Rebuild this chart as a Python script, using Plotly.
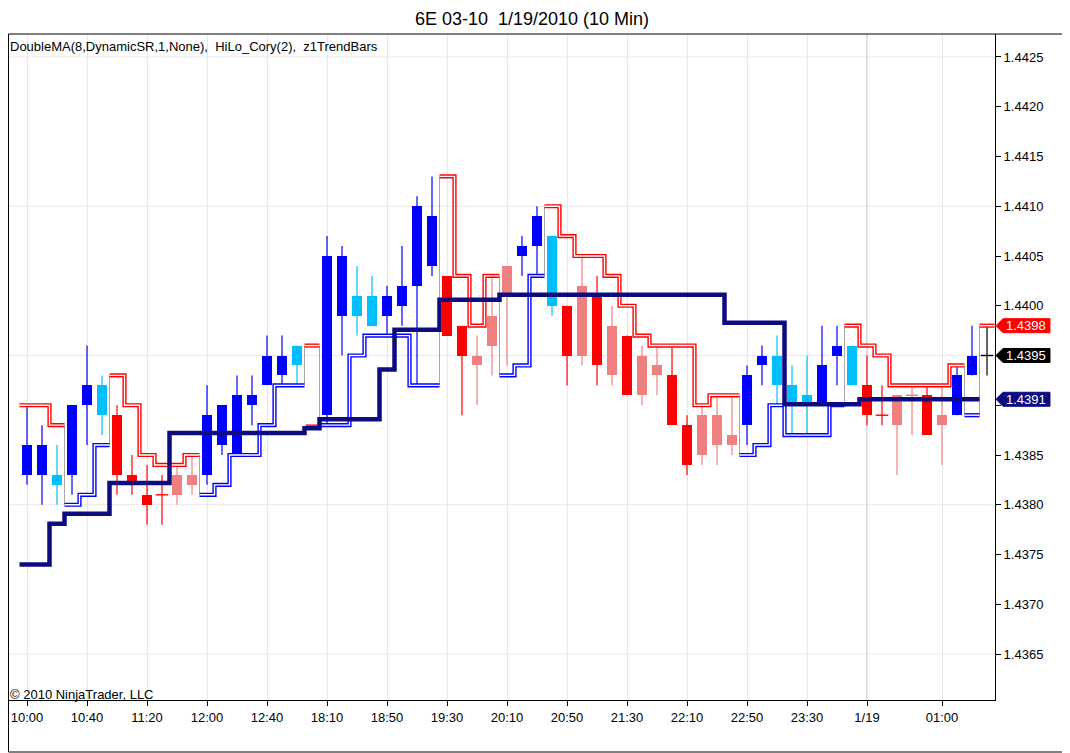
import plotly.graph_objects as go

# 6E 03-10, 10 minute bars (bar index 0 = 10:00)
tick_pos = [0, 4, 8, 12, 16, 20, 24, 28, 32, 36, 40, 44, 48, 52, 56, 61]
tick_text = ["10:00", "10:40", "11:20", "12:00", "12:40", "18:10", "18:50", "19:30",
             "20:10", "20:50", "21:30", "22:10", "22:50", "23:30", "1/19", "01:00"]

# z1TrendBars colour per bar: B=up trend, C=pullback in up trend, R=down trend, P=pullback in down trend
bar_color = ["B", "B", "C", "B", "B", "C", "R", "R", "R", "R", "P", "P", "B", "B", "B", "B", "B", "B", "C", "R",
             "B", "B", "C", "C", "B", "B", "B", "B", "R", "R", "P", "P", "P", "B", "B", "C", "R", "P", "R", "P",
             "R", "P", "P", "R", "R", "P", "P", "P", "B", "B", "C", "C", "C", "B", "B", "C", "R", "R", "P", "P",
             "R", "P", "B", "B", "K"]

opens = [1.4383, 1.4383, 1.4383, 1.4383, 1.4390, 1.4392, 1.4389, 1.4383, 1.4381, 1.4381,
         1.4381, 1.4382, 1.4383, 1.4386, 1.4385, 1.4390, 1.4392, 1.4393, 1.4396, 1.4388,
         1.4389, 1.4399, 1.4401, 1.4401, 1.4399, 1.4400, 1.4402, 1.4404, 1.4403, 1.4398,
         1.4394, 1.4396, 1.4401, 1.4405, 1.4406, 1.4407, 1.4400, 1.4395, 1.4401, 1.4393,
         1.4397, 1.4391, 1.4393, 1.4393, 1.4388, 1.4385, 1.4386, 1.4386, 1.4388, 1.4394,
         1.4395, 1.4392, 1.4391, 1.4390, 1.4395, 1.4396, 1.4392, 1.4389, 1.4388, 1.4391,
         1.4391, 1.4388, 1.4389, 1.4393, 1.4395]
highs = [1.4390, 1.4388, 1.4386, 1.4390, 1.4396, 1.4393, 1.4390, 1.4385, 1.4384, 1.4383,
         1.4384, 1.4385, 1.4392, 1.4390, 1.4393, 1.4393, 1.4397, 1.4397, 1.4396, 1.4388,
         1.4407, 1.4406, 1.4404, 1.4403, 1.4402, 1.4406, 1.4411, 1.4413, 1.4403, 1.4398,
         1.4397, 1.4403, 1.4404, 1.4407, 1.4410, 1.4407, 1.4400, 1.4405, 1.4403, 1.4400,
         1.4397, 1.4396, 1.4396, 1.4396, 1.4389, 1.4390, 1.4391, 1.4391, 1.4394, 1.4396,
         1.4397, 1.4394, 1.4395, 1.4398, 1.4398, 1.4396, 1.4395, 1.4392, 1.4391, 1.4392,
         1.4392, 1.4392, 1.4394, 1.4398, 1.4398]
lows = [1.4382, 1.4380, 1.4380, 1.4381, 1.4386, 1.4387, 1.4381, 1.4381, 1.4378, 1.4378,
        1.4380, 1.4381, 1.4382, 1.4385, 1.4385, 1.4388, 1.4392, 1.4392, 1.4392, 1.4388,
        1.4388, 1.4395, 1.4397, 1.4398, 1.4397, 1.4398, 1.4392, 1.4403, 1.4397, 1.4389,
        1.4390, 1.4393, 1.4394, 1.4403, 1.4403, 1.4399, 1.4392, 1.4394, 1.4392, 1.4392,
        1.4391, 1.4390, 1.4391, 1.4388, 1.4383, 1.4384, 1.4384, 1.4385, 1.4386, 1.4392,
        1.4390, 1.4387, 1.4387, 1.4390, 1.4392, 1.4392, 1.4388, 1.4388, 1.4383, 1.4387,
        1.4387, 1.4384, 1.4389, 1.4393, 1.4393]
closes = [1.4386, 1.4386, 1.4382, 1.4390, 1.4392, 1.4389, 1.4383, 1.4382, 1.4380, 1.4381,
          1.4383, 1.4383, 1.4389, 1.4390, 1.4391, 1.4391, 1.4395, 1.4395, 1.4394, 1.4388,
          1.4405, 1.4405, 1.4399, 1.4398, 1.4401, 1.4402, 1.4410, 1.4409, 1.4397, 1.4395,
          1.4395, 1.4399, 1.4404, 1.4406, 1.4409, 1.4400, 1.4395, 1.4402, 1.4394, 1.4398,
          1.4391, 1.4395, 1.4394, 1.4388, 1.4384, 1.4389, 1.4389, 1.4387, 1.4393, 1.4395,
          1.4392, 1.4390, 1.4390, 1.4394, 1.4396, 1.4392, 1.4389, 1.4389, 1.4391, 1.4391,
          1.4387, 1.4389, 1.4393, 1.4395, 1.4395]

# HiLo_Cory(2): upper (red) band and lower (blue) band, one of them per bar
hilo_up = [1.4390, 1.4390, 1.4388, None, None, None, 1.4393, 1.4390, 1.4385, 1.4384,
           1.4384, 1.4385, None, None, None, None, None, None, None, 1.4396,
           None, None, None, None, None, None, None, None, 1.4413, 1.4403,
           1.4398, 1.4403, None, None, None, 1.4410, 1.4407, 1.4405, 1.4405, 1.4403,
           1.4400, 1.4397, 1.4396, 1.4396, 1.4396, 1.4390, 1.4391, 1.4391, None, None,
           None, None, None, None, None, 1.4398, 1.4396, 1.4395, 1.4392, 1.4392,
           1.4392, 1.4392, 1.4394, None, 1.4398]
hilo_dn = [None, None, None, 1.4380, 1.4381, 1.4386, None, None, None, None,
           None, None, 1.4381, 1.4382, 1.4385, 1.4385, 1.4388, 1.4392, 1.4392, None,
           1.4388, 1.4388, 1.4395, 1.4397, 1.4397, 1.4397, 1.4392, 1.4392, None, None,
           None, None, 1.4393, 1.4394, 1.4403, None, None, None, None, None,
           None, None, None, None, None, None, None, None, 1.4385, 1.4386,
           1.4390, 1.4387, 1.4387, 1.4387, 1.4390, None, None, None, None, None,
           None, None, None, 1.4389, None]

# DoubleMA(8, DynamicSR)
double_ma = [1.43740, 1.43740, 1.43781, 1.43791, 1.43791, 1.43791, 1.43822, 1.43822, 1.43822, 1.43822,
             1.43872, 1.43872, 1.43872, 1.43872, 1.43872, 1.43872, 1.43872, 1.43872, 1.43872, 1.43877,
             1.43886, 1.43886, 1.43886, 1.43886, 1.43936, 1.43976, 1.43976, 1.43976, 1.44006, 1.44006,
             1.44006, 1.44006, 1.44011, 1.44011, 1.44011, 1.44011, 1.44011, 1.44011, 1.44011, 1.44011,
             1.44011, 1.44011, 1.44011, 1.44011, 1.44011, 1.44011, 1.44011, 1.43983, 1.43983, 1.43983,
             1.43983, 1.43901, 1.43901, 1.43901, 1.43901, 1.43901, 1.43906, 1.43906, 1.43906, 1.43906,
             1.43906, 1.43906, 1.43906, 1.43906, None]

COLORS = {"B": "#0000FF", "C": "#00BFFF", "R": "#FF0000", "P": "#F08080", "K": "#000000"}
NAVY = "#0C0C80"
X_RANGE = [-1.267, 64.533]
Y_RANGE = [1.436038, 1.442731]
PLOT_W, PLOT_H = 987, 666

n = len(closes)
idx = list(range(n))


def steps(vals):
    # one flat segment per bar, joined by vertical risers
    xs, ys = [], []
    for i, v in enumerate(vals):
        if v is None:
            if xs and xs[-1] is not None:
                xs.append(None)
                ys.append(None)
            continue
        xs += [i - 0.5, i + 0.5]
        ys += [v, v]
    return xs, ys


fig = go.Figure()

# candle bodies
body_base = [min(o, c) for o, c in zip(opens, closes)]
body_h = [abs(c - o) for o, c in zip(opens, closes)]
fig.add_trace(go.Bar(x=idx, y=body_h, base=body_base, width=0.62,
                     marker=dict(color=[COLORS[k] for k in bar_color], line=dict(width=0)),
                     hoverinfo="skip"))

# wicks, one trace per colour
for key, col in COLORS.items():
    wx, wy = [], []
    for i in idx:
        if bar_color[i] == key and highs[i] > lows[i]:
            wx += [i, i, None]
            wy += [lows[i], highs[i], None]
    if wx:
        fig.add_trace(go.Scatter(x=wx, y=wy, mode="lines", line=dict(color=col, width=1.2),
                                 hoverinfo="skip"))

# doji crosses
dj = [i for i in idx if opens[i] == closes[i]]
fig.add_trace(go.Scatter(x=dj, y=[opens[i] for i in dj], mode="markers",
                         marker=dict(symbol="line-ew", size=9,
                                     line=dict(width=1.4, color=[COLORS[bar_color[i]] for i in dj])),
                         hoverinfo="skip"))

# gray connectors where HiLo switches side
gx, gy = [], []
for i in range(1, n):
    if (hilo_up[i - 1] is None) != (hilo_up[i] is None):
        prev = hilo_up[i - 1] if hilo_up[i - 1] is not None else hilo_dn[i - 1]
        cur = hilo_up[i] if hilo_up[i] is not None else hilo_dn[i]
        gx += [i - 0.5, i - 0.5, None]
        gy += [prev, cur, None]
fig.add_trace(go.Scatter(x=gx, y=gy, mode="lines", line=dict(color="#A8A8A8", width=1),
                         hoverinfo="skip"))

# HiLo double lines
for vals, col in [(hilo_up, "#FF0000"), (hilo_dn, "#0000FF")]:
    sx, sy = steps(vals)
    fig.add_trace(go.Scatter(x=sx, y=sy, mode="lines", line=dict(color=col, width=4.2),
                             hoverinfo="skip"))
    fig.add_trace(go.Scatter(x=sx, y=sy, mode="lines", line=dict(color="white", width=1.4),
                             hoverinfo="skip"))

# DoubleMA thick step line
mx, my = steps(double_ma)
fig.add_trace(go.Scatter(x=mx, y=my, mode="lines", line=dict(color=NAVY, width=4.5),
                         hoverinfo="skip"))

shapes = []
for g in [1.4365, 1.4380, 1.4395, 1.4410, 1.4425]:
    shapes.append(dict(type="line", xref="paper", x0=0, x1=1, yref="y", y0=g, y1=g,
                       line=dict(color="#E8E8E8", width=1), layer="below"))
# session break at 1/19
shapes.append(dict(type="line", xref="x", x0=56, x1=56, yref="paper", y0=0, y1=1,
                   line=dict(color="#B4B4B4", width=1), layer="below"))
# outer frame
shapes.append(dict(type="rect", xref="paper", yref="paper", x0=0.0005, x1=1060.5 / PLOT_W,
                   y0=-52 / PLOT_H, y1=1.0, line=dict(color="black", width=1)))


# price tags on the right axis
def to_py(v):
    return (v - Y_RANGE[0]) / (Y_RANGE[1] - Y_RANGE[0])


last_ma = [v for v in double_ma if v is not None][-1]
tags = [(hilo_up[-1], "#FF0000"), (closes[-1], "#000000"), (last_ma, NAVY)]
annotations = []
tip, xl, xr, h = 1.001, 1.0081, 1.0557, 7 / PLOT_H
for val, col in tags:
    yc = to_py(val)
    shapes.append(dict(type="path", xref="paper", yref="paper",
                       path=f"M {tip},{yc} L {xl},{yc + h} L {xr},{yc + h} L {xr},{yc - h} L {xl},{yc - h} Z",
                       fillcolor=col, line=dict(color=col, width=1), layer="above"))
    annotations.append(dict(xref="paper", yref="y", x=(xl + xr) / 2, y=val, text=f"{val:.4f}",
                            xanchor="center", yanchor="middle",
                            showarrow=False, font=dict(color="white", size=13)))

annotations.append(dict(xref="paper", yref="paper", x=0.0, y=0.9805, xanchor="left", yanchor="middle",
                        text="DoubleMA(8,DynamicSR,1,None),\u00a0 HiLo_Cory(2),\u00a0 z1TrendBars",
                        showarrow=False, font=dict(size=13)))
annotations.append(dict(xref="paper", yref="paper", x=0.0, y=0.009, xanchor="left", yanchor="middle",
                        text="\u00a9 2010 NinjaTrader, LLC", showarrow=False, font=dict(size=13)))

# right axis labels: the two hidden behind the price tags are left blank
y_ticks = [1.4365, 1.4370, 1.4375, 1.4380, 1.4385, 1.4390, 1.4395, 1.4400,
           1.4405, 1.4410, 1.4415, 1.4420, 1.4425]
y_text = ["" if v in (1.4390, 1.4395) else f"{v:.4f}" for v in y_ticks]

fig.update_layout(
    width=1062, height=745,
    margin=dict(l=0, r=75, t=26, b=53),
    plot_bgcolor="white", paper_bgcolor="white",
    showlegend=False, bargap=0,
    font=dict(family="Liberation Sans, Arial, sans-serif", size=13, color="black"),
    title=dict(text="6E 03-10\u00a0 1/19/2010 (10 Min)", x=0.4934, xref="container", xanchor="center",
               y=0.986, yanchor="middle", font=dict(size=18, color="black")),
    shapes=shapes,
    annotations=annotations,
)
fig.update_xaxes(range=X_RANGE, tickmode="array", tickvals=tick_pos, ticktext=tick_text,
                 showgrid=True, gridcolor="#E8E8E8", gridwidth=1, zeroline=False,
                 ticks="outside", ticklen=5, tickcolor="black", showline=True, linecolor="black",
                 tickfont=dict(size=13))
fig.update_yaxes(range=Y_RANGE, side="right", tickmode="array", tickvals=y_ticks, ticktext=y_text,
                 showgrid=False, zeroline=False, ticks="outside", ticklen=5, tickcolor="black",
                 showline=True, linecolor="black", tickfont=dict(size=13))

fig.write_html("out.html")
